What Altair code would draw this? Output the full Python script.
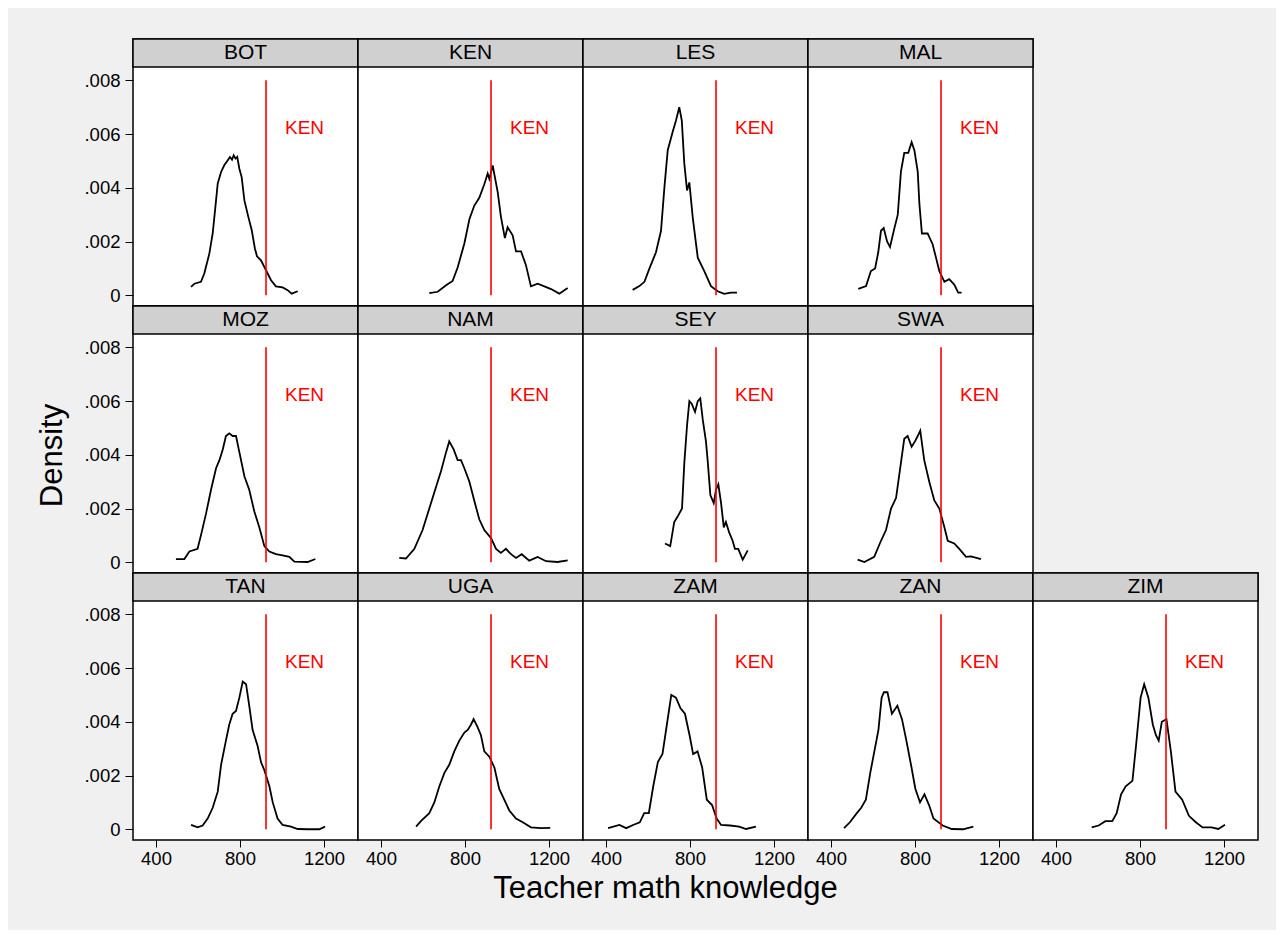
import altair as alt
import pandas as pd

# ---------------- data ----------------
ROW1 = ["BOT", "KEN", "LES", "MAL"]
ROW2 = ["MOZ", "NAM", "SEY", "SWA"]
ROW3 = ["TAN", "UGA", "ZAM", "ZAN", "ZIM"]

BOT_X = [567, 583, 614, 630, 654, 670, 686, 694, 710, 725, 741, 752, 762, 770, 779, 787, 797, 808, 821, 840, 856, 871, 881, 900, 924, 948, 971, 1003, 1027, 1046, 1075]
BOT_Y = [0.00031, 0.00043, 0.00050, 0.00081, 0.00155, 0.00230, 0.00353, 0.00416, 0.00459, 0.00484, 0.00502, 0.00515, 0.00505, 0.00521, 0.00509, 0.00515, 0.00471, 0.00440, 0.00353, 0.00291, 0.00242, 0.00174, 0.00145, 0.00130, 0.00093, 0.00056, 0.00033, 0.00029, 0.00019, 0.00006, 0.00015]

KEN_X = [630, 670, 710, 741, 765, 797, 821, 844, 868, 892, 908, 916, 932, 956, 971, 990, 1003, 1027, 1043, 1067, 1090, 1114, 1146, 1178, 1210, 1249, 1289]
KEN_Y = [0.00008, 0.00013, 0.00037, 0.00053, 0.00103, 0.00193, 0.00283, 0.00333, 0.00363, 0.00413, 0.00453, 0.00433, 0.00483, 0.00383, 0.00293, 0.00213, 0.00253, 0.00223, 0.00163, 0.00163, 0.00113, 0.00033, 0.00043, 0.00033, 0.00023, 0.00006, 0.00027]

LES_X = [527, 559, 583, 607, 638, 662, 678, 694, 718, 733, 749, 761, 773, 786, 797, 813, 837, 868, 900, 932, 963, 995, 1024]
LES_Y = [0.00020, 0.00034, 0.00050, 0.00100, 0.00160, 0.00240, 0.00400, 0.00540, 0.00610, 0.00650, 0.00700, 0.00650, 0.00490, 0.00390, 0.00420, 0.00290, 0.00140, 0.00090, 0.00034, 0.00015, 0.00005, 0.00010, 0.00010]

MAL_X = [530, 567, 590, 610, 625, 638, 651, 667, 681, 702, 718, 733, 749, 768, 784, 797, 813, 821, 833, 860, 884, 900, 916, 940, 963, 987, 1006, 1022]
MAL_Y = [0.00024, 0.00034, 0.00090, 0.00100, 0.00160, 0.00240, 0.00250, 0.00200, 0.00180, 0.00250, 0.00300, 0.00460, 0.00530, 0.00530, 0.00570, 0.00540, 0.00460, 0.00340, 0.00230, 0.00230, 0.00190, 0.00140, 0.00090, 0.00050, 0.00060, 0.00040, 0.00010, 0.00010]

MOZ_X = [495, 535, 559, 598, 614, 638, 662, 686, 702, 718, 733, 749, 765, 781, 797, 821, 844, 868, 892, 916, 940, 971, 1003, 1035, 1059, 1122, 1159]
MOZ_Y = [0.00012, 0.00012, 0.00040, 0.00050, 0.00100, 0.00180, 0.00270, 0.00350, 0.00380, 0.00420, 0.00470, 0.00480, 0.00470, 0.00470, 0.00410, 0.00320, 0.00270, 0.00190, 0.00130, 0.00060, 0.00040, 0.00030, 0.00026, 0.00020, 0.00002, 0.00001, 0.00012]

NAM_X = [487, 519, 559, 598, 630, 662, 686, 710, 725, 746, 765, 781, 797, 821, 844, 868, 892, 924, 948, 971, 995, 1019, 1043, 1070, 1106, 1146, 1186, 1241, 1289]
NAM_Y = [0.00016, 0.00014, 0.00050, 0.00120, 0.00200, 0.00280, 0.00340, 0.00410, 0.00450, 0.00420, 0.00380, 0.00380, 0.00350, 0.00300, 0.00230, 0.00160, 0.00120, 0.00090, 0.00050, 0.00035, 0.00050, 0.00030, 0.00016, 0.00030, 0.00006, 0.00020, 0.00004, 0.00001, 0.00007]

SEY_X = [681, 706, 725, 741, 762, 773, 786, 797, 808, 824, 837, 849, 861, 876, 884, 897, 913, 924, 935, 948, 961, 971, 987, 1003, 1014, 1030, 1051, 1075]
SEY_Y = [0.00070, 0.00060, 0.00150, 0.00170, 0.00200, 0.00370, 0.00510, 0.00600, 0.00590, 0.00560, 0.00600, 0.00610, 0.00530, 0.00450, 0.00380, 0.00250, 0.00220, 0.00270, 0.00290, 0.00220, 0.00130, 0.00150, 0.00110, 0.00080, 0.00050, 0.00050, 0.00010, 0.00044]

SWA_X = [527, 559, 606, 638, 662, 686, 710, 733, 749, 765, 784, 800, 813, 825, 844, 868, 892, 916, 940, 956, 987, 1011, 1043, 1067, 1114]
SWA_Y = [0.00010, 0.00001, 0.00020, 0.00080, 0.00120, 0.00200, 0.00240, 0.00370, 0.00460, 0.00470, 0.00430, 0.00450, 0.00470, 0.00490, 0.00380, 0.00300, 0.00230, 0.00200, 0.00130, 0.00080, 0.00070, 0.00050, 0.00020, 0.00022, 0.00012]

TAN_X = [567, 598, 622, 646, 670, 694, 710, 733, 749, 765, 781, 797, 813, 829, 844, 860, 884, 900, 916, 940, 956, 979, 1003, 1043, 1075, 1122, 1178, 1205]
TAN_Y = [0.00016, 0.00007, 0.00014, 0.00040, 0.00080, 0.00140, 0.00240, 0.00330, 0.00390, 0.00430, 0.00440, 0.00490, 0.00550, 0.00540, 0.00460, 0.00370, 0.00310, 0.00250, 0.00220, 0.00160, 0.00100, 0.00040, 0.00016, 0.00010, 0.00001, 0.00000, 0.00000, 0.00010]

UGA_X = [567, 590, 630, 654, 678, 702, 725, 749, 773, 797, 813, 829, 841, 860, 876, 892, 916, 940, 963, 987, 1011, 1043, 1075, 1114, 1162, 1206]
UGA_Y = [0.00010, 0.00030, 0.00060, 0.00100, 0.00160, 0.00210, 0.00240, 0.00290, 0.00330, 0.00360, 0.00370, 0.00390, 0.00410, 0.00380, 0.00350, 0.00290, 0.00270, 0.00230, 0.00150, 0.00110, 0.00070, 0.00040, 0.00026, 0.00007, 0.00004, 0.00005]

ZAM_X = [410, 464, 496, 529, 561, 582, 604, 625, 647, 669, 690, 711, 733, 755, 776, 798, 815, 836, 858, 880, 905, 927, 948, 991, 1034, 1067, 1114]
ZAM_Y = [0.00004, 0.00016, 0.00004, 0.00016, 0.00026, 0.00060, 0.00060, 0.00160, 0.00250, 0.00280, 0.00390, 0.00500, 0.00490, 0.00450, 0.00430, 0.00350, 0.00280, 0.00290, 0.00230, 0.00110, 0.00090, 0.00040, 0.00016, 0.00014, 0.00010, 0.00001, 0.00010]

ZAN_X = [462, 490, 523, 544, 566, 587, 609, 626, 641, 652, 669, 690, 716, 738, 759, 781, 802, 824, 845, 867, 888, 932, 975, 1029, 1078]
ZAN_Y = [0.00004, 0.00026, 0.00060, 0.00080, 0.00110, 0.00210, 0.00300, 0.00370, 0.00490, 0.00510, 0.00510, 0.00430, 0.00460, 0.00410, 0.00330, 0.00240, 0.00150, 0.00100, 0.00130, 0.00090, 0.00040, 0.00014, 0.00001, 0.00000, 0.00010]

ZIM_X = [570, 603, 635, 668, 689, 710, 732, 764, 781, 803, 820, 840, 861, 876, 889, 904, 926, 947, 969, 1001, 1033, 1066, 1098, 1141, 1173, 1205]
ZIM_Y = [0.00007, 0.00014, 0.00030, 0.00030, 0.00060, 0.00130, 0.00160, 0.00180, 0.00310, 0.00490, 0.00540, 0.00490, 0.00390, 0.00350, 0.00330, 0.00400, 0.00410, 0.00290, 0.00140, 0.00110, 0.00050, 0.00026, 0.00007, 0.00007, 0.00001, 0.00017]

CURVES = {
    "BOT": (BOT_X, BOT_Y), "KEN": (KEN_X, KEN_Y), "LES": (LES_X, LES_Y), "MAL": (MAL_X, MAL_Y),
    "MOZ": (MOZ_X, MOZ_Y), "NAM": (NAM_X, NAM_Y), "SEY": (SEY_X, SEY_Y), "SWA": (SWA_X, SWA_Y),
    "TAN": (TAN_X, TAN_Y), "UGA": (UGA_X, UGA_Y), "ZAM": (ZAM_X, ZAM_Y), "ZAN": (ZAN_X, ZAN_Y),
    "ZIM": (ZIM_X, ZIM_Y),
}

REF_NAME = "KEN"
REF_VALUE = 924          # reference (KEN) line position
REF_LINE_TOP = 0.008
REF_LABEL_X = 1000
REF_LABEL_Y = 0.006

X_TICKS = [400, 800, 1200]
Y_TICKS = [0, 0.002, 0.004, 0.006, 0.008]

# ---------------- styling / layout ----------------
X_DOMAIN = [290.5, 1362]
Y_DOMAIN = [-0.0004, 0.00954]
PW, PH = 225, 267
HEADER_H = 28
FONT = "Liberation Sans"
BG = "#f0f0f0"
HEADER_FILL = "#d0d0d0"

xscale = alt.Scale(domain=X_DOMAIN, nice=False, zero=False)
yscale = alt.Scale(domain=Y_DOMAIN, nice=False, zero=False)


def make_x_axis(show, with_title):
    if not show:
        return None
    kw = dict(values=X_TICKS, format="d", grid=False, domain=False, tickSize=7,
              tickColor="black", tickWidth=1, labelFontSize=18.5, labelColor="black",
              labelPadding=2, labelFont=FONT)
    if with_title:
        kw.update(title="Teacher math knowledge", titleFontSize=31, titleFont=FONT,
                  titleFontWeight="normal", titleColor="black", titleX=82, titleY=57,
                  titleAlign="center", titleBaseline="alphabetic")
    else:
        kw.update(title=None)
    return alt.Axis(**kw)


def make_y_axis(show, with_title):
    if not show:
        return None
    kw = dict(values=Y_TICKS, grid=False, domain=False, tickSize=8, tickColor="black",
              tickWidth=1, labelFontSize=18.5, labelColor="black", labelPadding=5,
              labelFont=FONT,
              labelExpr="datum.value == 0 ? '0' : substring(format(datum.value, '.3f'), 1)")
    if with_title:
        kw.update(title="Density", titleFontSize=31, titleFont=FONT, titleFontWeight="normal",
                  titleColor="black", titleX=-72, titleY=149, titleAngle=270,
                  titleAlign="center", titleBaseline="alphabetic")
    else:
        kw.update(title=None)
    return alt.Axis(**kw)


def panel(name, row, col):
    xs, ys = CURVES[name]
    df = pd.DataFrame({"x": xs, "y": ys})
    xax = make_x_axis(row == 2, row == 2 and col == 2)
    yax = make_y_axis(col == 0, row == 1 and col == 0)
    xenc = alt.X("x:Q", scale=xscale, axis=xax)
    yenc = alt.Y("y:Q", scale=yscale, axis=yax)

    line = alt.Chart(df).mark_line(color="black", strokeWidth=1.8).encode(x=xenc, y=yenc)
    rule = alt.Chart(pd.DataFrame({"x": [REF_VALUE], "y": [0.0], "y2": [REF_LINE_TOP]})).mark_rule(
        color="#ff0000", strokeWidth=1.6).encode(x=xenc, y=yenc, y2="y2:Q")
    lab = alt.Chart(pd.DataFrame({"x": [REF_LABEL_X], "y": [REF_LABEL_Y], "t": [REF_NAME]})).mark_text(
        color="#ff0000", fontSize=19, font=FONT, align="left", baseline="alphabetic", dx=3
    ).encode(x=xenc, y=yenc, text="t:N")
    hdr = pd.DataFrame({"t": [name]})
    hrect = alt.Chart(hdr).mark_rect(fill=HEADER_FILL, stroke="black", strokeWidth=1.5).encode(
        x=alt.value(0), x2=alt.value(PW), y=alt.value(0), y2=alt.value(HEADER_H))
    htext = alt.Chart(hdr).mark_text(fontSize=21, font=FONT, color="black",
                                     baseline="alphabetic", align="center").encode(
        x=alt.value(PW / 2), y=alt.value(19.5), text="t:N")
    return alt.layer(line, rule, lab, hrect, htext).properties(width=PW, height=PH)


def blank():
    return alt.Chart(pd.DataFrame({"t": [""]})).mark_rect(opacity=0).encode(
        x=alt.value(0), x2=alt.value(PW), y=alt.value(0), y2=alt.value(PH)
    ).properties(width=PW, height=PH,
                 view=alt.ViewBackground(stroke="transparent", fill="transparent"))


cells = []
for r, names in enumerate([ROW1, ROW2, ROW3]):
    for c in range(5):
        if c < len(names):
            cells.append(panel(names[c], r, c))
        else:
            cells.append(blank())

chart = alt.concat(*cells, columns=5, spacing=0, bounds="flush").properties(
    background=BG,
    padding={"left": 27, "top": 29, "right": 16, "bottom": 26},
).configure(font=FONT).configure_view(stroke="black", strokeWidth=1.5, fill="white")

chart.save("out.html", embed_options={"renderer": "svg", "actions": False})
